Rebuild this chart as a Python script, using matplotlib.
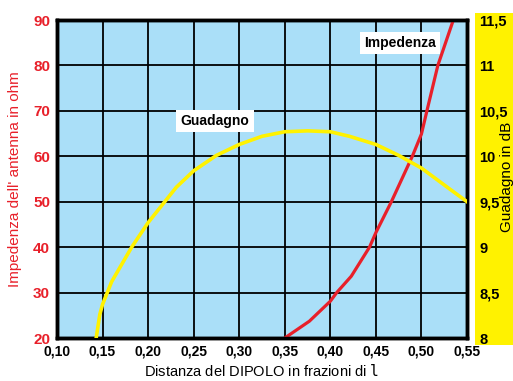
import matplotlib
matplotlib.use("Agg")
import matplotlib.pyplot as plt
from matplotlib.patches import Rectangle

plt.rcParams['font.family'] = ['Liberation Sans', 'DejaVu Sans']

# distance of dipole (fractions of lambda) vs impedance (ohm)
imp_x = [0.350, 0.377, 0.400, 0.407, 0.423, 0.443, 0.450, 0.467, 0.490, 0.500, 0.506, 0.518, 0.535]
imp_y = [20.0, 23.7, 28.1, 30.0, 33.6, 40.0, 43.2, 50.0, 60.0, 64.9, 70.0, 80.0, 90.0]

# distance vs gain (dB)
gain_x = [0.143, 0.147, 0.150, 0.160, 0.182, 0.200, 0.231, 0.250, 0.275, 0.300,
          0.325, 0.350, 0.375, 0.400, 0.421, 0.450, 0.475, 0.500, 0.531, 0.550]
gain_y = [8.00, 8.26, 8.37, 8.62, 9.00, 9.27, 9.66, 9.84, 10.01, 10.13,
          10.22, 10.27, 10.28, 10.27, 10.22, 10.13, 10.01, 9.87, 9.64, 9.50]

x_ticks = [0.10, 0.15, 0.20, 0.25, 0.30, 0.35, 0.40, 0.45, 0.50, 0.55]
imp_ticks = [20, 30, 40, 50, 60, 70, 80, 90]
gain_ticks = [8, 8.5, 9, 9.5, 10, 10.5, 11, 11.5]

red = '#e8202a'
yellow = '#fff200'
blue = '#aadff8'

fig = plt.figure(figsize=(5.13, 3.81), dpi=100)
fig.patch.set_facecolor('white')

# yellow band behind the right axis labels
fig.patches.append(Rectangle((475/513, 1-345/381), 1, (345-13)/381,
                             transform=fig.transFigure, facecolor=yellow,
                             edgecolor='none', zorder=-1))

ax = fig.add_axes([57/513, 1-338/381, 410/513, 318/381])
ax.set_facecolor(blue)
ax2 = ax.twinx()

ax.set_xlim(0.10, 0.55)
ax.set_ylim(20, 90)
ax2.set_ylim(8, 11.5)

ax.set_xticks(x_ticks)
ax.set_yticks(imp_ticks)
ax.grid(True, color='black', linewidth=1.3)
ax.set_axisbelow(True)

ax.plot(imp_x, imp_y, color=red, linewidth=2.3, zorder=3)
ax2.plot(gain_x, gain_y, color=yellow, linewidth=2.6, zorder=3)

ax.set_xticklabels([f"{v:.2f}".replace('.', ',') for v in x_ticks],
                   fontsize=10, fontweight='bold')
ax.set_yticklabels([str(v) for v in imp_ticks], fontsize=11,
                   fontweight='bold', color=red)
ax2.set_yticks(gain_ticks)
ax2.set_yticklabels([f"{v:g}".replace('.', ',') for v in gain_ticks],
                    fontsize=10.5, fontweight='bold', ha='left')
ax.tick_params(axis='both', length=0, pad=5)
ax2.tick_params(axis='y', length=0, pad=9)

for a in (ax, ax2):
    for s in a.spines.values():
        s.set_linewidth(2.5)
        s.set_color('black')

ax.set_xlabel("Distanza del DIPOLO in frazioni di $\\mathtt{l}$", fontsize=10.5,
              labelpad=3)
ax.set_ylabel("Impedenza dell' antenna in ohm", fontsize=11, color=red,
              labelpad=8)
fig.text(500/513, 0.535, "Guadagno in dB", rotation=90, fontsize=11,
         ha='left', va='center')

ax.text(0.4765, 84.9, "Impedenza", fontsize=10, fontweight='bold',
        ha='center', va='center', zorder=4,
        bbox=dict(facecolor='white', edgecolor='none', pad=3))
ax2.text(0.2734, 10.39, "Guadagno", fontsize=10, fontweight='bold',
         ha='center', va='center', zorder=4,
         bbox=dict(facecolor='white', edgecolor='none', pad=3))

fig.savefig("out.png", dpi=100)
